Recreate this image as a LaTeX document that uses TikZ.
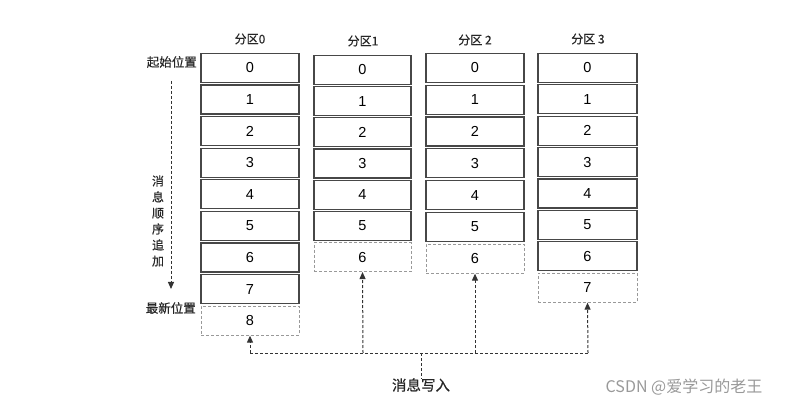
\documentclass[tikz,border=0pt]{standalone}
\usepackage{fontspec}
\setmainfont{Liberation Sans}
\newfontfamily\cjk[FakeBold=0.5]{Noto Sans CJK SC}
\newfontfamily\cjkw{Noto Sans CJK SC}
\usetikzlibrary{arrows.meta}
\begin{document}
\begin{tikzpicture}[x=1pt,y=-1pt,
  cell/.style={draw=black!72, line width=1.2pt, minimum height=29pt, inner sep=0pt, fill=white, font=\fontsize{14.5}{14.5}\selectfont},
  newcell/.style={draw=black!40, line width=0.7pt, dash pattern=on 3pt off 2pt, minimum height=29pt, inner sep=0pt, font=\fontsize{14.5}{14.5}\selectfont},
  lab/.style={font=\cjk\fontsize{12}{12}\selectfont, text=black!85, inner sep=0pt},
  wire/.style={draw=black!80, line width=1pt, dash pattern=on 3pt off 2pt},
  tip/.style={-{Triangle[length=7pt,width=6pt]}}
]
\useasboundingbox (0,0) rectangle (802,411);

% column 0
\foreach \i in {0,...,7} {
  \node[cell, minimum width=98pt] (c0b\i) at (250,{68+31.6*\i}) {\i};
}
\node[newcell, minimum width=98pt] (c0b8) at (250,{68+31.6*8}) {8};
% column 1
\foreach \i in {0,...,5} {
  \node[cell, minimum width=97pt] (c1b\i) at (362.5,{70+31.2*\i}) {\i};
}
\node[newcell, minimum width=97pt] (c1b6) at (362.5,{70+31.2*6}) {6};
% column 2
\foreach \i in {0,...,5} {
  \node[cell, minimum width=98pt] (c2b\i) at (475,{68+31.8*\i}) {\i};
}
\node[newcell, minimum width=98pt] (c2b6) at (475,{68+31.8*6}) {6};
% column 3
\foreach \i in {0,...,6} {
  \node[cell, minimum width=99pt] (c3b\i) at (587.5,{68+31.4*\i}) {\i};
}
\node[newcell, minimum width=99pt] (c3b7) at (587.5,{68+31.4*7}) {7};

% titles
\node[lab] (t0) at (250,39) {分区0};
\node[lab] (t1) at (363,41) {分区1};
\node[lab] (t2) at (475,40) {分区 2};
\node[lab] (t3) at (588,39) {分区 3};

% left labels
\node[lab, anchor=east, font=\cjk\fontsize{12.5}{12.5}\selectfont] (start) at (197,62) {起始位置};
\node[lab, anchor=east, font=\cjk\fontsize{12.5}{12.5}\selectfont] (latest) at (196,308) {最新位置};
\node[lab, align=center, font=\cjk\fontsize{12}{16}\selectfont] (seq) at (158,221) {消\\息\\顺\\序\\追\\加};

\coordinate (vs) at (171,81);
\coordinate (ve) at (171,289);
\draw[wire, tip] (vs) -- (ve);

% write arrows
\coordinate (bus0) at (250,353);
\coordinate (bus1) at (363,353);
\coordinate (bus2) at (475,353);
\coordinate (bus3) at (588,353);
\coordinate (busc) at (421,353);
\node[lab, font=\cjk\fontsize{14.5}{14.5}\selectfont] (write) at (421,385) {消息写入};

\draw[wire] (bus0) -- (bus3);
\draw[wire] (busc) -- (write.north);
\draw[wire, tip] (bus0) -- (c0b8.south);
\draw[wire, tip] (bus1) -- (c1b6.south);
\draw[wire, tip] (bus2) -- (c2b6.south);
\draw[wire, tip] (bus3) -- (c3b7.south);

% watermark
\node[font=\cjkw\fontsize{16}{16}\selectfont, text=black!40, inner sep=0pt] (wm) at (684,387) {CSDN @爱学习的老王};
\end{tikzpicture}
\end{document}
